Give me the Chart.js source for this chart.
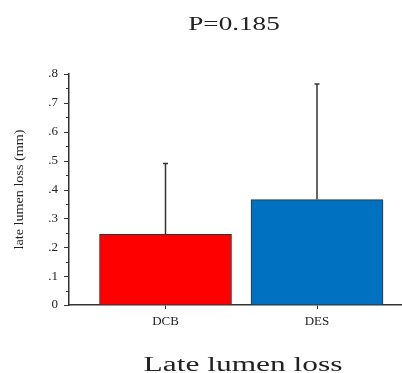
<!DOCTYPE html>
<html>
<head>
<meta charset="utf-8">
<script src="https://cdn.jsdelivr.net/npm/chart.js@4/dist/chart.umd.min.js"></script>
<style>
  html, body { margin: 0; padding: 0; background: #fff; overflow: hidden; }
  #wrap { width: 402px; height: 373px; }
</style>
</head>
<body>
<div id="wrap"><canvas id="lumenChart"></canvas></div>
<script>
const groups = ['DCB', 'DES'];
const means = [0.245, 0.365];
const sds = [0.245, 0.40];
const barColors = ['#fe0000', '#0070c0'];
const yTickLabels = ['0', '.1', '.2', '.3', '.4', '.5', '.6', '.7', '.8'];

const titleText = 'P=0.185';
const xTitleText = 'Late lumen loss';
const yTitleText = 'late lumen loss (mm)';

const ink = '#333333';
const textColor = '#222222';
const serif = "'Liberation Serif', 'Times New Roman', serif";

// the source image has stretched lettering, so draw the titles by hand
function stretchedText(ctx, text, x, y, size, sx, rotate) {
    ctx.save();
    ctx.translate(x, y);
    if (rotate) ctx.rotate(-Math.PI / 2);
    ctx.scale(sx, 1);
    ctx.font = size + 'px ' + serif;
    ctx.fillStyle = textColor;
    ctx.textAlign = 'center';
    ctx.textBaseline = rotate ? 'middle' : 'alphabetic';
    ctx.fillText(text, 0, 0);
    ctx.restore();
}

const extras = {
    id: 'extras',
    afterDatasetsDraw(chart) {
        const { ctx, scales: { x, y } } = chart;
        ctx.save();
        ctx.strokeStyle = ink;
        ctx.lineWidth = 1.5;
        means.forEach((m, i) => {
            const px = x.getPixelForValue(i + 1);
            const top = y.getPixelForValue(m + sds[i]);
            const base = y.getPixelForValue(m);
            ctx.beginPath();
            ctx.moveTo(px, base);
            ctx.lineTo(px, top);
            ctx.moveTo(px - 2.5, top);
            ctx.lineTo(px + 2.5, top);
            ctx.stroke();
        });
        ctx.restore();
    },
    afterDraw(chart) {
        const { ctx, chartArea, scales: { y } } = chart;
        const left = y.right;
        ctx.save();
        ctx.strokeStyle = ink;
        ctx.lineWidth = 1;
        const ticks = y.ticks;
        ticks.forEach((t, i) => {
            const py = Math.round(y.getPixelForValue(t.value)) + 0.5;
            ctx.beginPath();
            ctx.moveTo(left - 5, py);
            ctx.lineTo(left, py);
            ctx.stroke();
            if (i < ticks.length - 1) {
                const my = Math.round(y.getPixelForValue((t.value + ticks[i + 1].value) / 2)) + 0.5;
                ctx.beginPath();
                ctx.moveTo(left - 3, my);
                ctx.lineTo(left, my);
                ctx.stroke();
            }
        });
        ctx.restore();

        const midX = (chartArea.left + chartArea.right) / 2;
        const midY = (chartArea.top + chartArea.bottom) / 2;
        stretchedText(ctx, titleText, midX - 1.5, 30, 19, 1.43, false);
        stretchedText(ctx, xTitleText, midX + 7.5, 371, 20, 1.57, false);
        stretchedText(ctx, yTitleText, 20, midY, 12, 1.18, true);
    }
};

new Chart(document.getElementById('lumenChart'), {
    type: 'bar',
    data: {
        datasets: [{
            data: means.map((m, i) => ({ x: i + 1, y: m })),
            backgroundColor: barColors,
            borderColor: ink,
            borderWidth: 1,
            borderSkipped: 'bottom',
            barThickness: 132,
        }]
    },
    options: {
        responsive: true,
        maintainAspectRatio: false,
        animation: false,
        layout: { padding: { top: 74, bottom: 24, left: 0, right: 0 } },
        plugins: {
            legend: { display: false },
            tooltip: { enabled: false },
        },
        scales: {
            x: {
                type: 'linear',
                offset: false,
                min: 0.363,
                max: 2.561,
                afterBuildTicks(scale) {
                    scale.ticks = groups.map((g, i) => ({ value: i + 1 }));
                },
                afterFit(scale) { scale.height = 44; },
                grid: { offset: false, drawOnChartArea: false, drawTicks: true, tickLength: 4, color: ink },
                border: { color: ink, width: 1.5 },
                ticks: {
                    padding: 5,
                    color: textColor,
                    font: { family: serif, size: 13 },
                    callback: (v) => groups[v - 1] ?? '',
                }
            },
            y: {
                min: 0,
                max: 0.8,
                afterFit(scale) { scale.width = 69; },
                grid: { drawOnChartArea: false, drawTicks: false },
                border: { color: ink, width: 1.5 },
                ticks: {
                    stepSize: 0.1,
                    padding: 11,
                    color: textColor,
                    font: { family: serif, size: 13 },
                    callback: (v) => yTickLabels[Math.round(v * 10)],
                }
            }
        }
    },
    plugins: [extras]
});
</script>
</body>
</html>
